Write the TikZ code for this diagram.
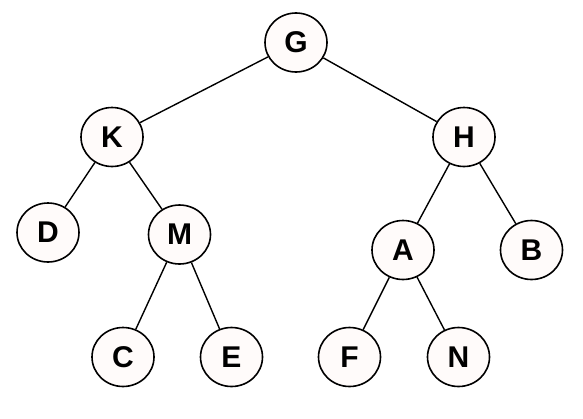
\documentclass[tikz,border=0pt]{standalone}
\usepackage{fontspec}
\setmainfont{Liberation Sans}
\usetikzlibrary{shapes.geometric}
\begin{document}
\begin{tikzpicture}[x=1pt,y=-1pt]

    \tikzset{
      vertex/.style={
        draw,
        ellipse,
        line width=1.6pt,
        fill={rgb,255:red,255;green,251;blue,250},
        minimum width=62pt,
        minimum height=59pt,
        inner sep=0pt,
        font=\fontsize{30}{30}\selectfont\bfseries,
      },
      branch/.style={line width=1.4pt},
    }
    \useasboundingbox (0,0) rectangle (583,418);
	\node[vertex] (G) at (296,42.5) {G};
	\node[vertex] (K) at (112,137) {K};
	\node[vertex] (H) at (464,137) {H};
	\node[vertex] (D) at (48,232.5) {D};
	\node[vertex] (M) at (179.5,234.5) {M};
	\node[vertex] (A) at (403,250) {A};
	\node[vertex] (B) at (531.5,250) {B};
	\node[vertex] (C) at (123,357) {C};
	\node[vertex] (E) at (231.5,357) {E};
	\node[vertex] (F) at (349.5,357) {F};
	\node[vertex] (N) at (458.5,357) {N};
	\draw[branch] (G) -- (K);
	\draw[branch] (G) -- (H);
	\draw[branch] (K) -- (D);
	\draw[branch] (K) -- (M);
	\draw[branch] (M) -- (C);
	\draw[branch] (M) -- (E);
	\draw[branch] (H) -- (A);
	\draw[branch] (H) -- (B);
	\draw[branch] (A) -- (F);
	\draw[branch] (A) -- (N);

\end{tikzpicture}
\end{document}
